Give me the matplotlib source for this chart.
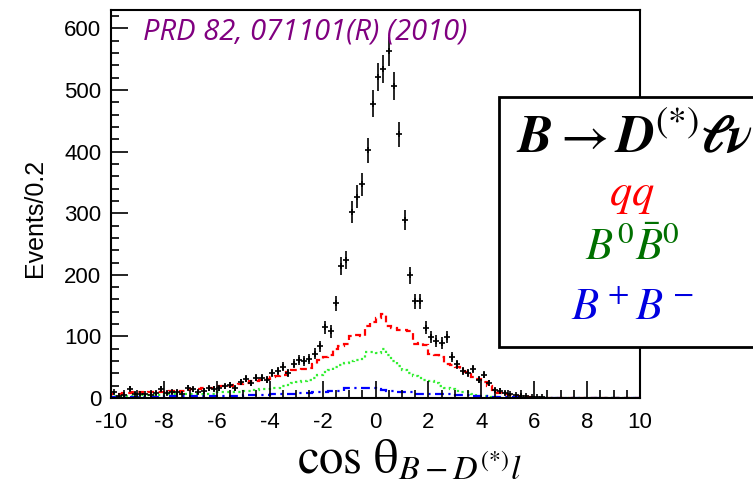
import numpy as np
import matplotlib.pyplot as plt
from matplotlib.patches import Rectangle
from matplotlib.ticker import MultipleLocator

plt.rcParams['mathtext.fontset'] = 'stix'
plt.rcParams['axes.unicode_minus'] = False
plt.rcParams['font.family'] = ['Liberation Sans', 'DejaVu Sans']

# 100 bins of width 0.2 over [-10, 10]
x_lo, x_hi, n_bins = -10, 10, 100

data = [9, 3, 5, 15, 7, 6, 6, 5, 8, 15,
        8, 9, 10, 7, 17, 14, 10, 12, 16, 15,
        16, 19, 21, 16, 26, 31, 24, 33, 33, 30,
        41, 44, 51, 40, 56, 62, 60, 63, 72, 84,
        115, 108, 154, 214, 224, 302, 327, 347, 402, 478,
        521, 534, 563, 507, 428, 289, 199, 157, 157, 114,
        99, 92, 89, 99, 67, 55, 44, 40, 47, 30,
        38, 24, 13, 12, 8, 6, 5, 4, 3, 2,
        1, 1, 0, 0, 0, 0, 0, 0, 0, 0,
        0, 0, 0, 0, 0, 0, 0, 0, 0, 0]

qq = [7, 6, 8, 8, 9, 9, 8, 9, 10, 9,
      10, 11, 10, 12, 13, 14, 15, 16, 17, 17,
      19, 20, 20, 21, 23, 25, 27, 28, 30, 31,
      34, 36, 38, 42, 45, 46, 47, 48, 55, 62,
      66, 70, 80, 84, 87, 100, 102, 100, 117, 124,
      130, 136, 117, 114, 111, 110, 108, 88, 89, 86,
      72, 70, 67, 56, 53, 50, 44, 42, 34, 31,
      26, 19, 13, 8, 6, 5, 4, 3, 2, 1,
      0, 0, 0, 0, 0, 0, 0, 0, 0, 0,
      0, 0, 0, 0, 0, 0, 0, 0, 0, 0]

b0b0 = [4, 4, 4, 4, 4, 5, 5, 5, 5, 5,
        6, 6, 6, 6, 6, 7, 7, 7, 7, 7,
        9, 9, 9, 10, 10, 12, 12, 13, 14, 15,
        16, 17, 19, 21, 24, 26, 28, 30, 33, 37,
        42, 46, 50, 54, 57, 60, 62, 64, 75, 75,
        73, 80, 70, 60, 52, 45, 41, 36, 32, 29,
        27, 25, 20, 17, 15, 12, 10, 9, 6, 4,
        3, 2, 1, 0, 0, 0, 0, 0, 0, 0,
        0, 0, 0, 0, 0, 0, 0, 0, 0, 0,
        0, 0, 0, 0, 0, 0, 0, 0, 0, 0]

bpbm = [2, 2, 2, 2, 2, 2, 2, 2, 2, 2,
        3, 3, 3, 3, 3, 3, 3, 3, 3, 3,
        4, 4, 4, 4, 4, 5, 5, 5, 5, 5,
        6, 6, 6, 6, 6, 8, 8, 8, 10, 10,
        10, 12, 12, 12, 16, 16, 16, 16, 16, 16,
        15, 13, 11, 11, 9, 9, 9, 7, 7, 7,
        7, 6, 6, 6, 6, 5, 5, 5, 3, 3,
        3, 2, 2, 2, 1, 1, 1, 0, 0, 0,
        0, 0, 0, 0, 0, 0, 0, 0, 0, 0,
        0, 0, 0, 0, 0, 0, 0, 0, 0, 0]

edges = np.linspace(x_lo, x_hi, n_bins + 1)
centers = 0.5 * (edges[:-1] + edges[1:])
counts = np.array(data, dtype=float)
filled = counts > 0

fig = plt.figure(figsize=(7.53, 4.87), dpi=100)
ax = fig.add_axes([111 / 753, 1 - 398 / 487, 529 / 753, 388 / 487])

ax.stairs(qq, edges, color='#ff0000', lw=1.6, ls=(0, (3, 2)))
ax.stairs(b0b0, edges, color='#33ee33', lw=1.6, ls=(0, (1, 1.5)))
ax.stairs(bpbm, edges, color='#0000ff', lw=1.6, ls=(0, (4, 2, 1, 2)))
ax.errorbar(centers[filled], counts[filled], yerr=np.sqrt(counts[filled]),
            fmt='+', color='black', ms=5, mew=1.2, elinewidth=1.2, capsize=0)

ax.set_xlim(x_lo, x_hi)
ax.set_ylim(0, 630)
ax.xaxis.set_major_locator(MultipleLocator(2))
ax.xaxis.set_minor_locator(MultipleLocator(0.5))
ax.yaxis.set_major_locator(MultipleLocator(100))
ax.yaxis.set_minor_locator(MultipleLocator(20))
ax.tick_params(which='both', direction='in', top=False, right=False,
               labelsize=16, width=1.2)
ax.tick_params(which='major', length=12)
ax.tick_params(which='minor', length=6)
ax.tick_params(axis='y', pad=7)
ax.tick_params(axis='x', pad=10)
for s in ax.spines.values():
    s.set_linewidth(1.5)

fig.text(35 / 753, 1 - 218 / 487, 'Events/0.2', rotation=90,
         ha='center', va='center', fontsize=18)
fig.text(297 / 753, 1 - 472 / 487, r'$\mathrm{cos\ \theta}_{B-D^{(*)}l}$',
         ha='left', va='baseline', fontsize=35)

fig.text(143 / 753, 1 - 39 / 487, 'PRD 82, 071101(R) (2010)',
         family='Open Sans', style='italic', color='#800080', fontsize=21,
         ha='left', va='baseline')

# decay-mode box on the right, running off the edge
fig.add_artist(Rectangle((499 / 753, 1 - 347 / 487), 270 / 753, 250 / 487,
                         transform=fig.transFigure, facecolor='white',
                         edgecolor='black', lw=2, clip_on=False))
cx = 634 / 753
fig.text(cx, 1 - 153 / 487,
         r'$\mathbfit{B}\rightarrow\mathbfit{D}^{(*)}\mathbfit{\ell\nu}$',
         ha='center', va='baseline', fontsize=38, color='black')
fig.text(cx - 2 / 753, 1 - 205 / 487, r'$qq$', ha='center', va='baseline',
         fontsize=32, color='#ff0000')
fig.text(cx - 2 / 753, 1 - 260 / 487, r'$B^0\bar{B}^0$', ha='center',
         va='baseline', fontsize=32, color='#007000')
fig.text(cx - 2 / 753, 1 - 320 / 487, r'$B^+B^-$', ha='center',
         va='baseline', fontsize=32, color='#0000e0')

fig.savefig('out.png', dpi=100)
